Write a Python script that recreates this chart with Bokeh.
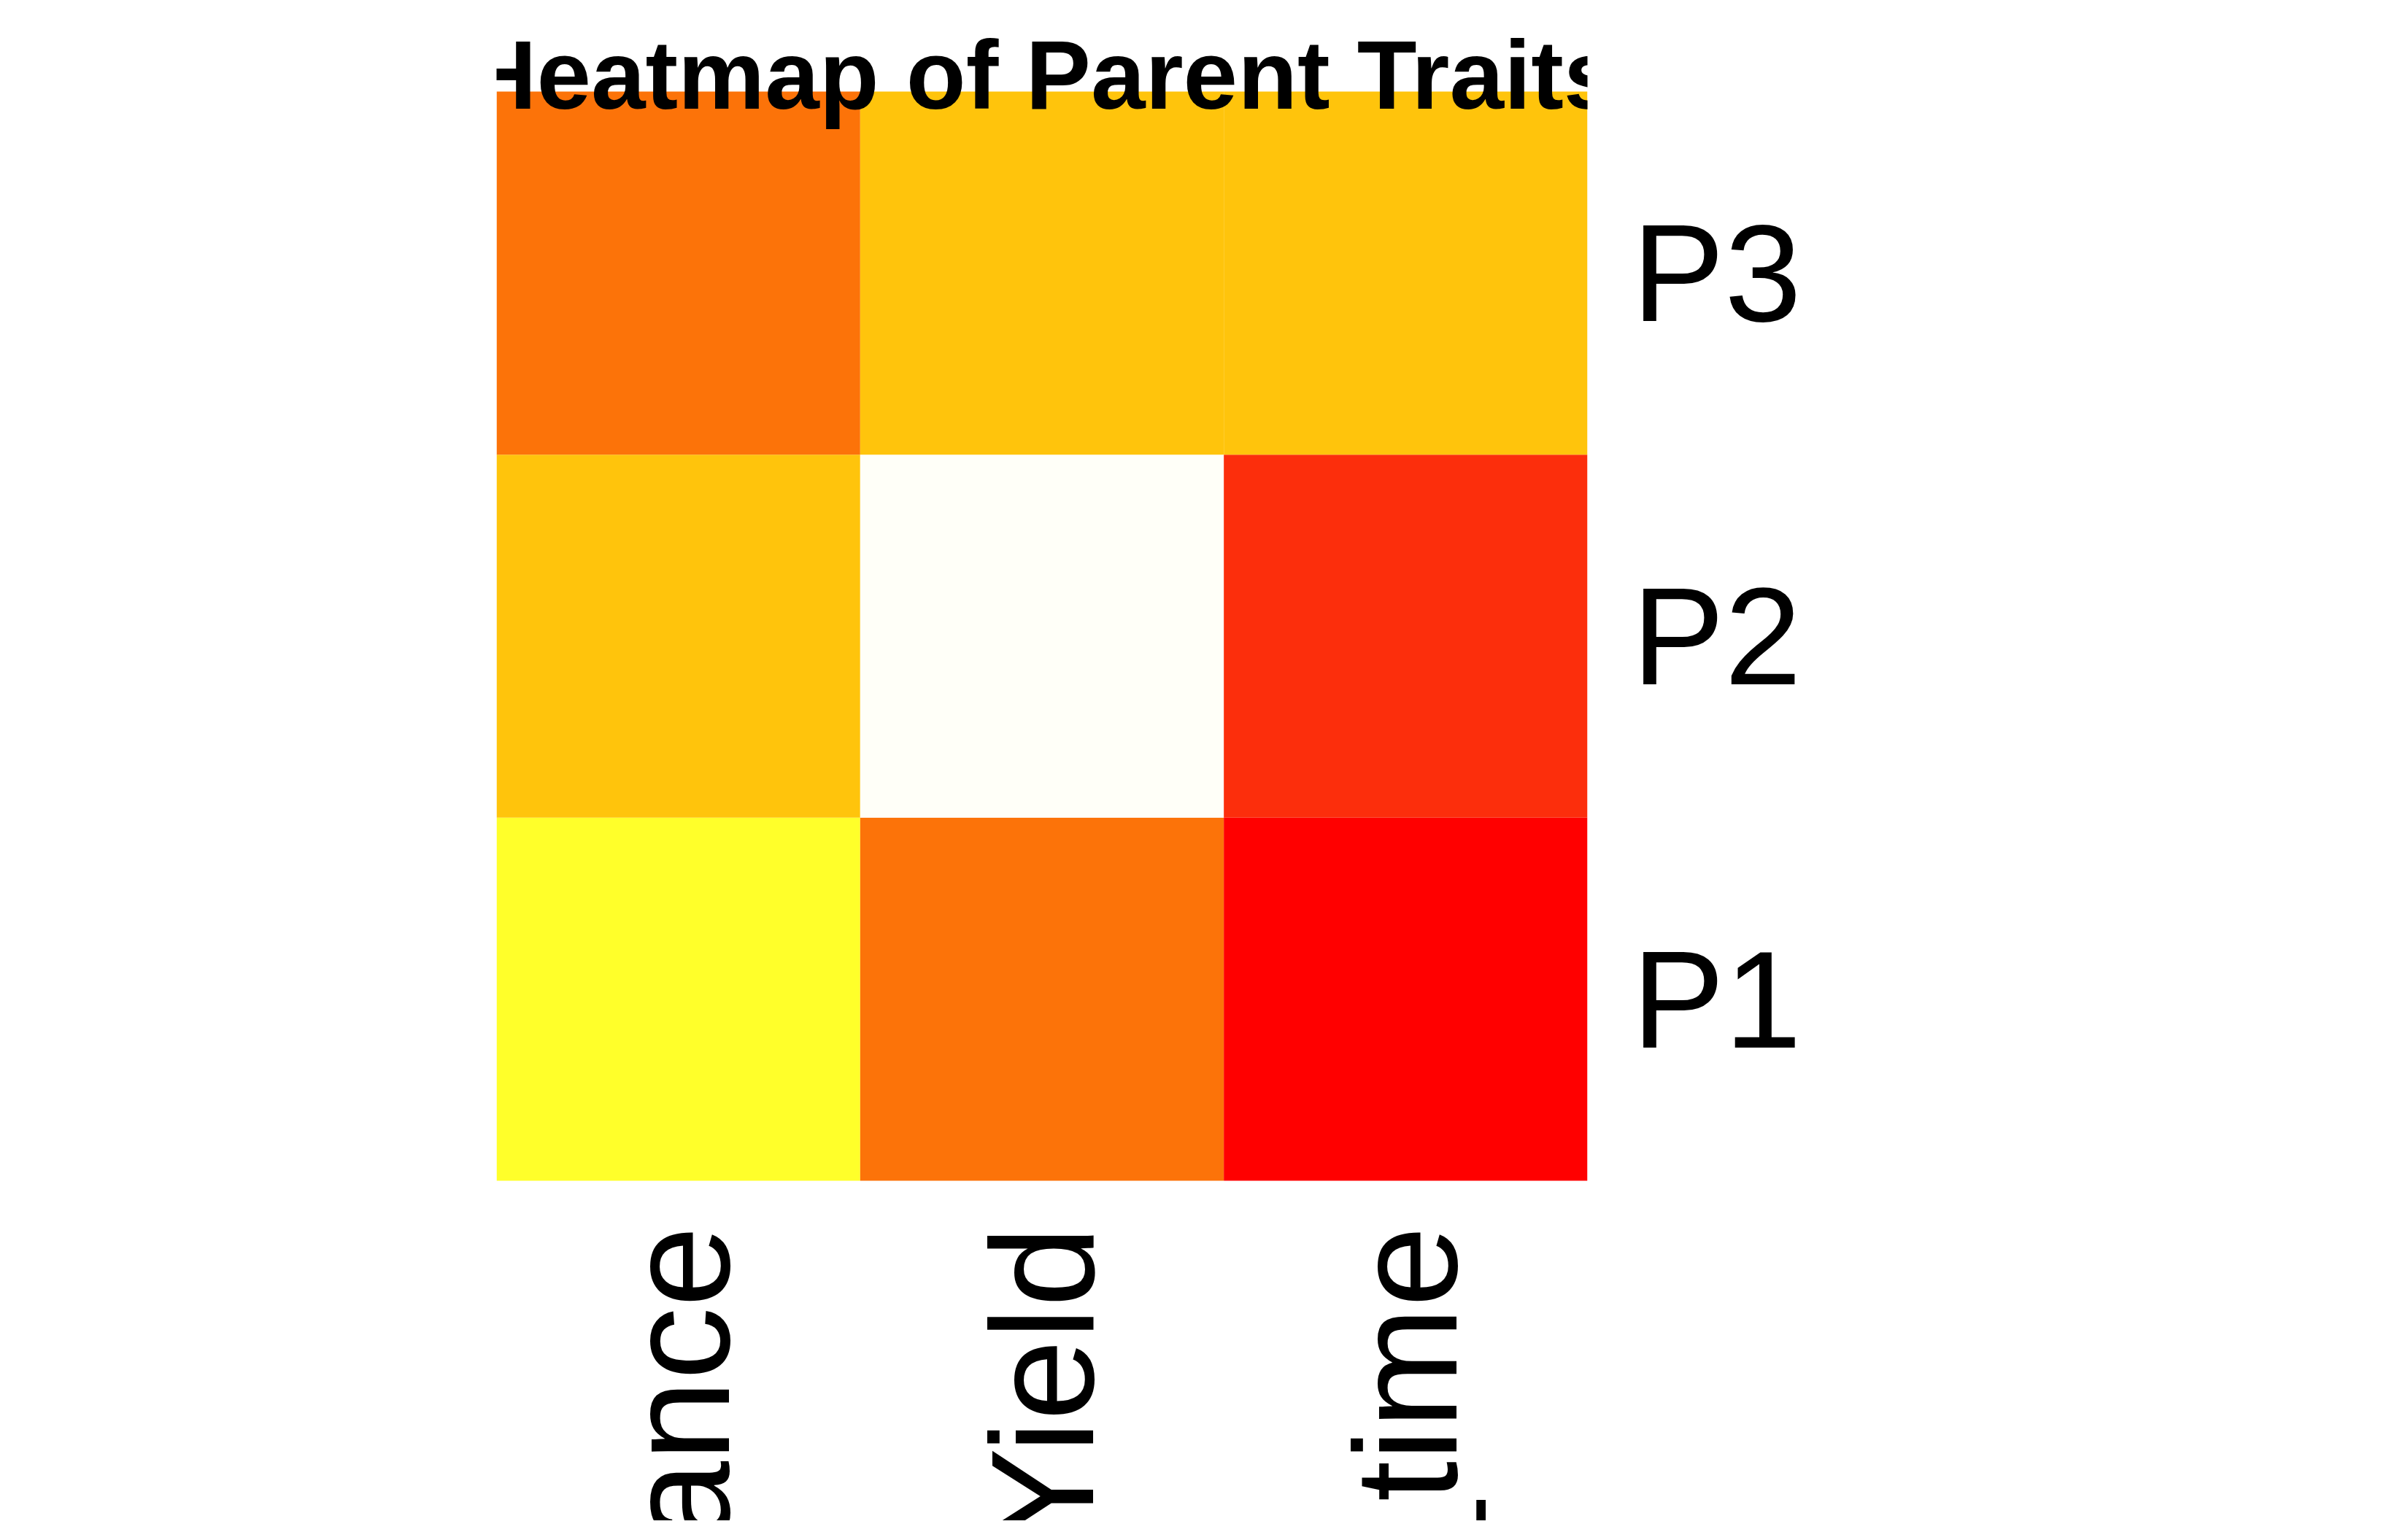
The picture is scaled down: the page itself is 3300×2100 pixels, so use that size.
from math import pi
from bokeh.plotting import figure
from bokeh.models import ColumnDataSource, LinearColorMapper, Range1d, FixedTicker
from bokeh.core.properties import value
from bokeh.embed import file_html
from bokeh.resources import INLINE

traits = ["Disease_resistance", "Yield", "Flowering_time"]
parents = ["P1", "P2", "P3"]
# value rank per cell (row = parent, col = trait); higher = lighter in heat colours
values = {
    "P1": [4, 2, 0],
    "P2": [3, 5, 1],
    "P3": [2, 3, 3],
}
heat = ["#FF0000", "#FC2E0C", "#FC7309", "#FFC40C", "#FFFF2A", "#FFFFF8"]

xs, ys, vs = [], [], []
for i, par in enumerate(parents):
    for t, v in zip(traits, values[par]):
        xs.append(t)
        ys.append(i + 0.5)
        vs.append(v)
src = ColumnDataSource(dict(x=xs, y=ys, v=vs))
mapper = LinearColorMapper(palette=heat, low=0, high=5)

W, H = 3284, 2084
unit = 1493 / 3.0  # px per row
p = figure(width=W, height=H, x_range=traits,
           y_range=Range1d(-466 / unit, 3 + 125 / unit),
           y_axis_location="right", output_backend="svg", toolbar_location=None,
           min_border_left=680, min_border_right=1109, min_border_top=0,
           min_border_bottom=0)
p.rect("x", "y", 1, 1, source=src, fill_color={"field": "v", "transform": mapper},
       line_color=None)
p.outline_line_color = None
p.grid.visible = False
p.xaxis.visible = False
p.yaxis.ticker = FixedTicker(ticks=[i + 0.5 for i in range(len(parents))])
p.yaxis.major_label_overrides = {i + 0.5: par for i, par in enumerate(parents)}
p.yaxis.axis_line_color = None
p.yaxis.major_tick_line_color = None
p.yaxis.minor_tick_line_color = None
p.yaxis.major_label_text_font = "Liberation Sans"
p.yaxis.major_label_text_font_size = "190px"
p.yaxis.major_label_standoff = 55
p.yaxis.major_label_text_color = "black"

# x labels, rotated, hanging below the heatmap
lab_src = ColumnDataSource(dict(x=traits, y=[-62 / unit] * len(traits)))
p.text("x", "y", text="x", source=lab_src, angle=pi / 2, text_align="right",
       text_baseline="middle", text_font=value("Liberation Sans"),
       text_font_size="200px", text_color="black")

# title, partly above the page edge as in the reference
p.text(x=[traits[1]], y=[3 + 23 / unit], text=["Heatmap of Parent Traits"],
       text_align="center", text_baseline="alphabetic",
       text_font=value("Liberation Sans"), text_font_style="bold",
       text_font_size="134px", text_color="black")

open("out.html", "w").write(file_html(p, INLINE))
